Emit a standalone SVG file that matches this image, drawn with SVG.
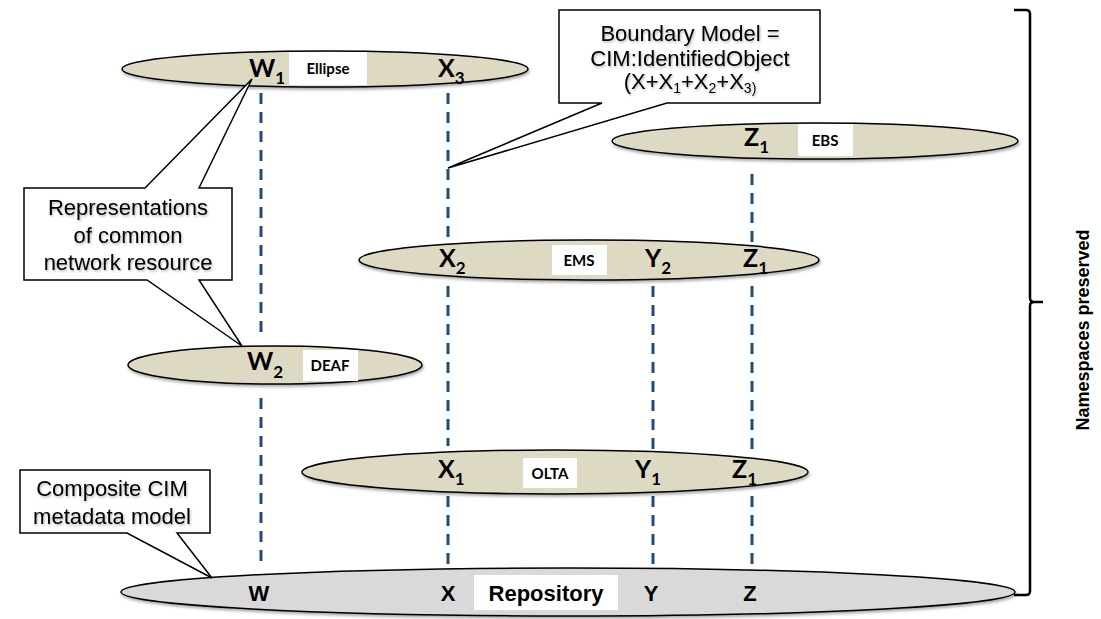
<svg xmlns="http://www.w3.org/2000/svg" width="1101" height="619" viewBox="0 0 1101 619">
<style>
.ell{fill:#DDD9C3;stroke:#000;stroke-width:1.5}
.repo{fill:#D9D9D9;stroke:#000;stroke-width:1.5}
.lbl{fill:#fff;stroke:none}
.big{font-family:Lato,"Open Sans",sans-serif;font-weight:bold;font-size:25px;fill:#000}
.sub{font-size:17px}
.small{font-family:Lato,"Open Sans",sans-serif;font-weight:bold;font-size:15px;fill:#000;text-anchor:middle}
.call{fill:#fff;stroke:#000;stroke-width:1.5;stroke-linejoin:miter}
.ct{font-family:"Liberation Sans",Arial,sans-serif;font-size:22px;fill:#000;text-anchor:middle;filter:url(#ts)}
.rp{font-family:"Liberation Sans",Arial,sans-serif;font-weight:bold;font-size:22px;fill:#000;text-anchor:middle}
.dash{stroke:#1F4E79;stroke-width:3;stroke-dasharray:11 8;fill:none}
</style>
<defs>
<filter id="ts" x="-10%" y="-30%" width="120%" height="160%">
<feDropShadow dx="1" dy="1.5" stdDeviation="1" flood-color="#000" flood-opacity="0.3"/>
</filter>
<filter id="sh" x="-5%" y="-30%" width="110%" height="170%">
<feDropShadow dx="1" dy="2" stdDeviation="1.5" flood-color="#000" flood-opacity="0.35"/>
</filter>
</defs>

<g id="connectors">
<line class="dash" x1="261" y1="93" x2="261" y2="334"/>
<line class="dash" x1="261" y1="398" x2="261" y2="563"/>
<line class="dash" x1="448" y1="93" x2="448" y2="250"/>
<line class="dash" x1="448" y1="286" x2="448" y2="446"/>
<line class="dash" x1="448" y1="496" x2="448" y2="565"/>
<line class="dash" x1="653" y1="286" x2="653" y2="456"/>
<line class="dash" x1="653" y1="496" x2="653" y2="565"/>
<line class="dash" x1="752" y1="174" x2="752" y2="250"/>
<line class="dash" x1="752" y1="286" x2="752" y2="456"/>
<line class="dash" x1="752" y1="496" x2="752" y2="565"/>
</g>

<g id="node-ellipse">
<ellipse class="ell" cx="325" cy="69" rx="203" ry="18" filter="url(#sh)"/>
<rect class="lbl" x="289" y="52" width="78" height="33"/>
<text class="small" x="328" y="74">Ellipse</text>
<text class="big" x="249" y="77">W<tspan class="sub" dy="7">1</tspan></text>
<text class="big" x="438" y="77">X<tspan class="sub" dy="7">3</tspan></text>
</g>

<g id="node-ebs">
<ellipse class="ell" cx="815" cy="141" rx="203" ry="18" filter="url(#sh)"/>
<rect class="lbl" x="798" y="124" width="55" height="32"/>
<text class="small" x="825" y="146">EBS</text>
<text class="big" x="744" y="146">Z<tspan class="sub" dy="7">1</tspan></text>
</g>

<g id="node-ems">
<ellipse class="ell" cx="589" cy="260" rx="230" ry="20" filter="url(#sh)"/>
<rect class="lbl" x="552" y="245" width="55" height="30"/>
<text class="small" x="579" y="266">EMS</text>
<text class="big" x="439" y="267">X<tspan class="sub" dy="7">2</tspan></text>
<text class="big" x="645" y="267">Y<tspan class="sub" dy="7">2</tspan></text>
<text class="big" x="743" y="267">Z<tspan class="sub" dy="7">1</tspan></text>
</g>

<g id="node-deaf">
<ellipse class="ell" cx="275" cy="365" rx="147" ry="19" filter="url(#sh)"/>
<rect class="lbl" x="303" y="350" width="55" height="31"/>
<text class="small" x="330" y="371">DEAF</text>
<text class="big" x="247" y="370">W<tspan class="sub" dy="8">2</tspan></text>
</g>

<g id="node-olta">
<ellipse class="ell" cx="555" cy="472" rx="253" ry="22" filter="url(#sh)"/>
<rect class="lbl" x="523" y="458" width="54" height="30"/>
<text class="small" x="550" y="479">OLTA</text>
<text class="big" x="438" y="478">X<tspan class="sub" dy="7">1</tspan></text>
<text class="big" x="635" y="478">Y<tspan class="sub" dy="7">1</tspan></text>
<text class="big" x="732" y="478">Z<tspan class="sub" dy="7">1</tspan></text>
</g>

<g id="node-repository">
<ellipse class="repo" cx="568" cy="592" rx="447" ry="24" filter="url(#sh)"/>
<rect class="lbl" x="474" y="575" width="144" height="35"/>
<text class="rp" x="546" y="601">Repository</text>
<text class="rp" x="259" y="601">W</text>
<text class="rp" x="448" y="601">X</text>
<text class="rp" x="651" y="601">Y</text>
<text class="rp" x="750" y="601">Z</text>
</g>

<g id="callout-boundary">
<path class="call" d="M559,10 H820 V103 H667 L448,168 L602,103 H559 Z"/>
<text class="ct" x="690" y="41">Boundary Model =</text>
<text class="ct" x="690" y="66">CIM:IdentifiedObject</text>
<text class="ct" x="690" y="89">(X+X<tspan font-size="14" dy="4">1</tspan><tspan dy="-4">+X</tspan><tspan font-size="14" dy="4">2</tspan><tspan dy="-4">+X</tspan><tspan font-size="14" dy="4">3)</tspan></text>
</g>

<g id="callout-representations">
<path class="call" d="M24,188 H145 L252,79 L199,188 H232 V280 H199 L242,346 L147,280 H24 Z"/>
<text class="ct" x="128" y="215">Representations</text>
<text class="ct" x="128" y="243">of common</text>
<text class="ct" x="128" y="270">network resource</text>
</g>

<g id="callout-composite">
<path class="call" d="M20,470 H210 V533 H177 L212,578 L127,533 H20 Z"/>
<text class="ct" x="112" y="496">Composite CIM</text>
<text class="ct" x="112" y="524">metadata model</text>
</g>

<g id="brace">
<path d="M1014,10 H1026 Q1030,10 1030,14 V298 Q1030,302 1034,302 H1043 M1034,302 Q1030,302 1030,306 V591 Q1030,595 1026,595 H1014" fill="none" stroke="#000" stroke-width="2.5"/>
<text transform="translate(1089,330) rotate(-90)" text-anchor="middle" font-family="'Liberation Sans',Arial,sans-serif" font-weight="bold" font-size="18" fill="#000">Namespaces preserved</text>
</g>
</svg>
